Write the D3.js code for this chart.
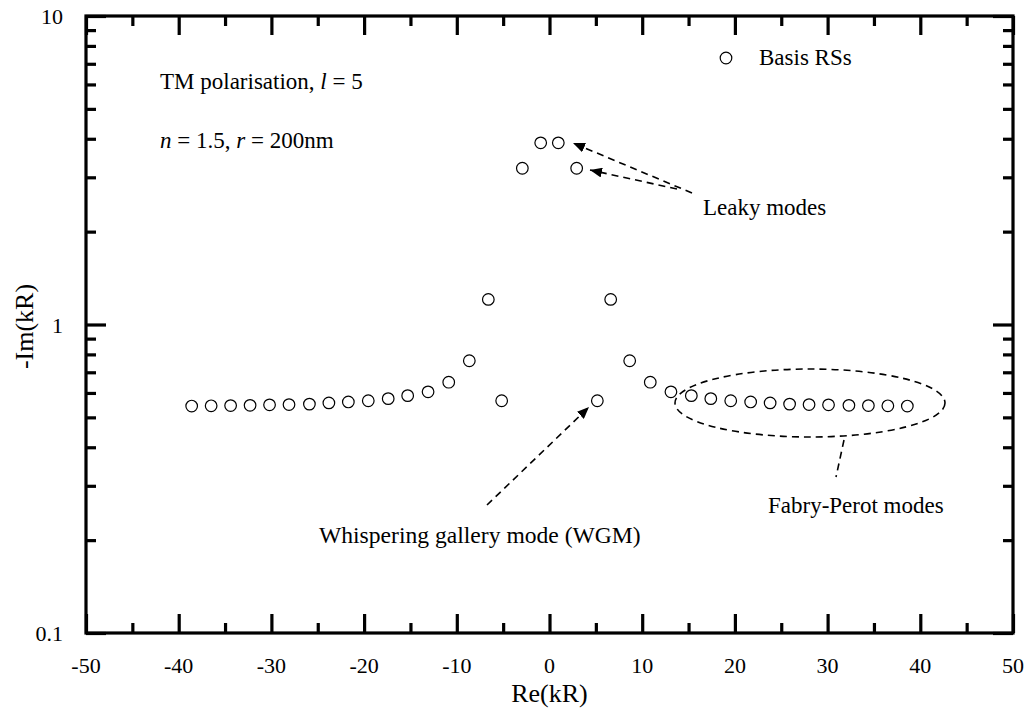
<!DOCTYPE html>
<html>
<head>
<meta charset="utf-8">
<script src="https://cdn.jsdelivr.net/npm/d3@7"></script>
<style>
  html, body { margin: 0; padding: 0; background: #fff; }
  svg { display: block; font-family: "Liberation Serif", "Times New Roman", serif; }
</style>
</head>
<body>
<svg id="chart" width="1030" height="711"></svg>
<script>
// Resonant states: real and (negative) imaginary parts of kR
const reKR = [-38.6, -36.5, -34.4, -32.3, -30.2, -28.1, -25.9, -23.8, -21.7, -19.55,
              -17.4, -15.3, -13.1, -10.87, -8.65, -6.6, -5.16, -2.93, -0.95,
              0.95, 2.93, 5.16, 6.6, 8.65, 10.87, 13.1, 15.3, 17.4, 19.55, 21.7,
              23.8, 25.9, 28.0, 30.1, 32.3, 34.4, 36.5, 38.6];
const negImKR = [0.544, 0.545, 0.546, 0.547, 0.549, 0.550, 0.552, 0.557, 0.561, 0.566,
                 0.575, 0.588, 0.605, 0.650, 0.763, 1.206, 0.566, 3.21, 3.88,
                 3.88, 3.21, 0.566, 1.206, 0.763, 0.650, 0.605, 0.588, 0.575, 0.566, 0.561,
                 0.557, 0.552, 0.550, 0.549, 0.547, 0.546, 0.545, 0.544];

const xMajorTicks = [-50, -40, -30, -20, -10, 0, 10, 20, 30, 40, 50];
const xMinorTicks = [-45, -35, -25, -15, -5, 5, 15, 25, 35, 45];
const yMajorTicks = [0.1, 1, 10];
const yTickLabels = ["0.1", "1", "10"];
const yMinorTicks = [0.2, 0.3, 0.4, 0.5, 0.6, 0.7, 0.8, 0.9, 2, 3, 4, 5, 6, 7, 8, 9];

const svg = d3.select("#chart");
const L = 86, R = 1013, T = 16, B = 633;
const textSize = 23;

const x = d3.scaleLinear().domain([-50, 50]).range([L, R]);
const y = d3.scaleLog().domain([0.1, 10]).range([B, T]);

// Inward ticks on all four sides
function tickAxis(axisFn, scale, values, size) {
  return axisFn(scale).tickValues(values).tickSize(-size).tickFormat("");
}
const axes = svg.append("g").attr("class", "axes");
function drawAxis(gen, transform) {
  const g = axes.append("g").attr("transform", transform).call(gen);
  g.select(".domain").remove();
  g.selectAll(".tick line").attr("stroke", "#000").attr("stroke-width", 3.2);
  return g;
}
drawAxis(tickAxis(d3.axisBottom, x, xMajorTicks, 19), `translate(0,${B})`);
drawAxis(tickAxis(d3.axisBottom, x, xMinorTicks, 10), `translate(0,${B})`);
drawAxis(tickAxis(d3.axisTop, x, xMajorTicks, 19), `translate(0,${T})`);
drawAxis(tickAxis(d3.axisTop, x, xMinorTicks, 10), `translate(0,${T})`);
drawAxis(tickAxis(d3.axisLeft, y, yMajorTicks, 20), `translate(${L},0)`);
drawAxis(tickAxis(d3.axisLeft, y, yMinorTicks, 10), `translate(${L},0)`);
drawAxis(tickAxis(d3.axisRight, y, yMajorTicks, 20), `translate(${R},0)`);
drawAxis(tickAxis(d3.axisRight, y, yMinorTicks, 10), `translate(${R},0)`);

// Frame
svg.append("rect")
  .attr("x", L).attr("y", T).attr("width", R - L).attr("height", B - T)
  .attr("fill", "none").attr("stroke", "#000").attr("stroke-width", 3.2);

// Tick labels
svg.append("g").selectAll("text").data(xMajorTicks).join("text")
  .attr("x", d => x(d)).attr("y", 673)
  .attr("text-anchor", "middle").attr("font-size", 22)
  .text(d => d);
svg.append("g").selectAll("text").data(yMajorTicks).join("text")
  .attr("x", 63).attr("y", d => y(d) + 8)
  .attr("text-anchor", "end").attr("font-size", 22)
  .text((d, i) => yTickLabels[i]);

// Axis titles
svg.append("text").attr("x", (L + R) / 2).attr("y", 702)
  .attr("text-anchor", "middle").attr("font-size", 26).text("Re(kR)");
svg.append("text").attr("transform", `translate(33,${(T + B) / 2 + 2}) rotate(-90)`)
  .attr("text-anchor", "middle").attr("font-size", 26).text("-Im(kR)");

// Data points
const pts = reKR.map((r, i) => ({ re: r, im: negImKR[i] }));
svg.append("g").selectAll("circle").data(pts).join("circle")
  .attr("cx", d => x(d.re)).attr("cy", d => y(d.im)).attr("r", 5.8)
  .attr("fill", "none").attr("stroke", "#000").attr("stroke-width", 1.2);

// Legend
svg.append("circle").attr("cx", 726).attr("cy", 58).attr("r", 5.8)
  .attr("fill", "none").attr("stroke", "#000").attr("stroke-width", 1.2);
svg.append("text").attr("x", 759).attr("y", 65).attr("font-size", textSize).text("Basis RSs");

// Parameter annotations
const t1 = svg.append("text").attr("x", 160).attr("y", 89).attr("font-size", textSize);
t1.append("tspan").text("TM polarisation, ");
t1.append("tspan").attr("font-style", "italic").text("l");
t1.append("tspan").text(" = 5");
const t2 = svg.append("text").attr("x", 160).attr("y", 148).attr("font-size", textSize);
t2.append("tspan").attr("font-style", "italic").text("n");
t2.append("tspan").text(" = 1.5, ");
t2.append("tspan").attr("font-style", "italic").text("r");
t2.append("tspan").text(" = 200nm");

// Arrowhead marker
svg.append("defs").append("marker")
  .attr("id", "head").attr("viewBox", "0 0 12 10")
  .attr("refX", 12).attr("refY", 5)
  .attr("markerWidth", 12).attr("markerHeight", 10)
  .attr("markerUnits", "userSpaceOnUse").attr("orient", "auto")
  .append("path").attr("d", "M0,0 L12,5 L0,10 Z").attr("fill", "#000");

const dash = "7,5";
function arrow(x1, y1, x2, y2) {
  svg.append("line")
    .attr("x1", x1).attr("y1", y1).attr("x2", x2).attr("y2", y2)
    .attr("stroke", "#000").attr("stroke-width", 1.6)
    .attr("stroke-dasharray", dash).attr("marker-end", "url(#head)");
}

// Leaky modes
arrow(692, 193, 573, 143);
arrow(677, 189, 590, 170);
svg.append("text").attr("x", 703).attr("y", 215).attr("font-size", textSize).text("Leaky modes");

// Whispering gallery mode
arrow(487, 505, 589, 407);
svg.append("text").attr("x", 319).attr("y", 543).attr("font-size", 23.6).text("Whispering gallery mode (WGM)");

// Fabry-Perot modes
svg.append("ellipse").attr("cx", 810).attr("cy", 403).attr("rx", 135).attr("ry", 34)
  .attr("fill", "none").attr("stroke", "#000").attr("stroke-width", 1.6)
  .attr("stroke-dasharray", dash);
svg.append("line").attr("x1", 844).attr("y1", 440).attr("x2", 836).attr("y2", 477)
  .attr("stroke", "#000").attr("stroke-width", 1.6).attr("stroke-dasharray", dash);
svg.append("text").attr("x", 768).attr("y", 513).attr("font-size", textSize).text("Fabry-Perot modes");
</script>
</body>
</html>
